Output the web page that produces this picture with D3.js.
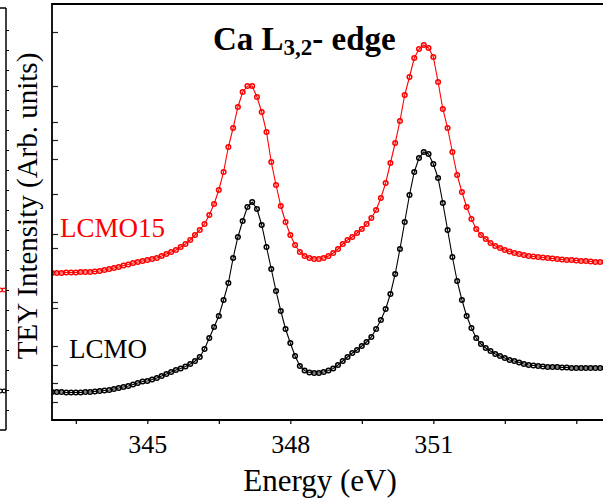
<!DOCTYPE html>
<html>
<head>
<meta charset="utf-8">
<script src="https://cdn.jsdelivr.net/npm/d3@7/dist/d3.min.js"></script>
<style>
  body { margin: 0; background: #fff; }
  svg { display: block; font-family: "Liberation Serif", "Times New Roman", serif; }
</style>
</head>
<body>
<svg id="chart" width="603" height="504"></svg>
<script>
// energy grid of the scan (eV)
const energyStart = 343.0;
const energyStep = 0.1;

// TEY intensity, arbitrary units (offset curves as plotted)
const lcmo = [
  28, 28, 28, 27.5, 27.5, 27.5, 27.5, 28, 28, 28.5,
  29, 29.5, 30, 31, 32, 33, 34, 35.5, 37, 38.5,
  39, 40.5, 42, 44, 46, 48, 50, 51.5, 53.5, 56,
  59, 63, 71, 82, 93, 104, 120, 137, 162, 183,
  199, 213, 218, 211, 195, 173, 151, 129, 109, 91,
  77, 64, 54, 49.5, 47.5, 47, 47, 48, 49.5, 51.5,
  55, 59, 63, 67, 70, 74, 78, 83, 91, 100,
  111, 126, 146, 171, 198, 225, 248, 262, 268, 266,
  256, 242, 217, 190, 163, 139, 120, 104, 92, 82,
  76, 72, 69, 66, 64, 62, 60, 59, 57.5, 56,
  55, 54.5, 54, 53.5, 53, 53, 53, 52.5, 52.5, 52,
  52, 52, 52, 52, 52, 52, 52
];
const lcmo15 = [
  147, 147, 147, 147.5, 147.5, 147.5, 148, 148, 148, 148.5,
  149, 150, 151, 152, 153, 154.5, 155.5, 157, 158, 159,
  160, 161, 162, 164, 166, 168, 170, 173, 176, 180,
  185, 190, 196, 205, 216, 230, 248, 273, 292, 313,
  328, 334, 334, 323, 308, 288, 258, 235, 214, 198,
  185, 175, 168, 164, 162, 161, 161, 162, 164, 167,
  171, 176, 180, 183, 187, 191, 196, 202, 210, 222,
  237, 257, 277, 299, 325, 343, 362, 371, 375, 372,
  363, 338, 311, 292, 268, 245, 228, 213, 201, 191,
  185, 181, 177, 174, 172, 170, 168.5, 167, 166, 165,
  164, 163.5, 163, 162.5, 162, 161.5, 161, 160.5, 160, 160,
  159.5, 159, 159, 158.5, 158, 158, 158
];

const seriesNames = ["LCMO", "LCMO15"];
const seriesColors = ["#000000", "#ff0000"];

const xTicks = [343.5, 345, 346.5, 348, 349.5, 351, 352.5, 354];
const xTickLabels = [345, 348, 351];
const yTicks = [388, 334, 298, 280, 261, 226, 186, 172, 118, 112, 74, 55, 37, 18];

// neighbouring panel cut off at the left edge
const leftPanelTicks = d3.range(1, 21);
const leftPanelEnds = [1.95, 7.0];

const width = 603;
const height = 504;
const margin = { top: 4, right: 0, bottom: 84, left: 52 };

const svg = d3.select("#chart");

const x = d3.scaleLinear()
  .domain([343, 354.56])
  .range([margin.left, width - margin.right]);

const y = d3.scaleLinear()
  .domain([0, 416])
  .range([height - margin.bottom, margin.top]);

const series = [lcmo, lcmo15].map((vals, k) => ({
  name: seriesNames[k],
  color: seriesColors[k],
  points: vals.map((v, i) => ({ e: energyStart + i * energyStep, v }))
}));

svg.append("clipPath").attr("id", "plot-clip")
  .append("rect")
  .attr("x", margin.left)
  .attr("y", margin.top)
  .attr("width", width - margin.left - margin.right)
  .attr("height", height - margin.top - margin.bottom);

// curves
const plot = svg.append("g").attr("clip-path", "url(#plot-clip)");
const line = d3.line().x(d => x(d.e)).y(d => y(d.v));

series.forEach(s => {
  const g = plot.append("g");
  g.append("path")
    .datum(s.points)
    .attr("fill", "none")
    .attr("stroke", s.color)
    .attr("stroke-width", 1.1)
    .attr("d", line);
  g.selectAll("circle")
    .data(s.points)
    .enter()
    .append("circle")
    .attr("cx", d => x(d.e))
    .attr("cy", d => y(d.v))
    .attr("r", 2.3)
    .attr("fill", "none")
    .attr("stroke", s.color)
    .attr("stroke-width", 1.5);
});

// bottom axis
const xAxis = d3.axisBottom(x)
  .tickValues(xTicks)
  .tickSize(4)
  .tickFormat(d => xTickLabels.includes(d) ? d : "");

const gx = svg.append("g")
  .attr("transform", `translate(0,${height - margin.bottom})`)
  .call(xAxis);
gx.select(".domain").remove();
gx.selectAll(".tick line").attr("stroke", "#000").attr("stroke-width", 1.2);
gx.selectAll(".tick text")
  .attr("font-family", "'Liberation Serif', 'Times New Roman', serif")
  .attr("font-size", 26)
  .attr("fill", "#000")
  .attr("dy", null)
  .attr("y", 33);

// left axis, ticks pointing inward
const yAxis = d3.axisRight(y)
  .tickValues(yTicks)
  .tickSize(6)
  .tickFormat("");
const gy = svg.append("g")
  .attr("transform", `translate(${margin.left},0)`)
  .call(yAxis);
gy.select(".domain").remove();
gy.selectAll(".tick line").attr("stroke", "#222").attr("stroke-width", 1.2);

// frame
svg.append("path")
  .attr("d", `M${width},${margin.top}H${margin.left}V${height - margin.bottom}H${width}`)
  .attr("fill", "none")
  .attr("stroke", "#000")
  .attr("stroke-width", 1.8);

// partial neighbouring panel
const yl = d3.scaleLinear().domain([0, 21]).range([430, 10]);
const gl = svg.append("g").attr("transform", "translate(6,0)")
  .call(d3.axisRight(yl).tickValues(leftPanelTicks).tickSize(3).tickFormat("").tickSizeOuter(0));
gl.select(".domain").attr("d", `M0,8V430`).attr("stroke-width", 1.5);
svg.append("path")
  .attr("d", "M0,8H6M0,430H6")
  .attr("stroke", "#000")
  .attr("stroke-width", 1.5);
svg.append("g").selectAll("circle")
  .data(leftPanelEnds.flatMap((v, k) => [0, 3.5].map(dx => ({ v, k, dx }))))
  .enter()
  .append("circle")
  .attr("cx", d => 0.5 + d.dx)
  .attr("cy", d => yl(d.v))
  .attr("r", 1.8)
  .attr("fill", "none")
  .attr("stroke", d => seriesColors[d.k])
  .attr("stroke-width", 1.2);

// axis titles
svg.append("text")
  .attr("x", 320)
  .attr("y", 491)
  .attr("text-anchor", "middle")
  .attr("font-size", 31)
  .text("Energy (eV)");

svg.append("text")
  .attr("transform", "translate(37,206) rotate(-90)")
  .attr("text-anchor", "middle")
  .attr("font-size", 29)
  .text("TEY Intensity (Arb. units)");

// title
const title = svg.append("text")
  .attr("x", 213)
  .attr("y", 50)
  .attr("font-size", 33)
  .attr("font-weight", "bold");
title.append("tspan").text("Ca L");
title.append("tspan").attr("font-size", 23).attr("dy", 5).text("3,2");
title.append("tspan").attr("dy", -5).text("- edge");

// series labels
svg.append("text")
  .attr("x", 60)
  .attr("y", 237)
  .attr("font-size", 27)
  .attr("fill", seriesColors[1])
  .text(seriesNames[1]);

svg.append("text")
  .attr("x", 69)
  .attr("y", 358)
  .attr("font-size", 27)
  .attr("fill", seriesColors[0])
  .text(seriesNames[0]);
</script>
</body>
</html>
